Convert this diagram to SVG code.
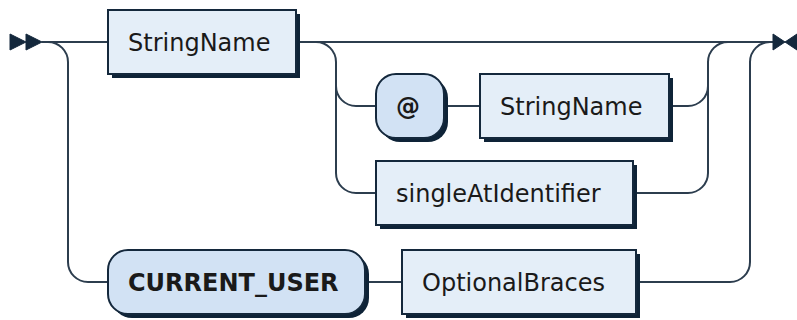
<svg xmlns="http://www.w3.org/2000/svg" width="797" height="320" viewBox="0 0 797 320">
<style>
  .line { fill: none; stroke: #2c3d4e; stroke-width: 2; }
  .shadow { fill: #0e2337; stroke: none; }
  .nonterminal { fill: #e4eef8; stroke: #14283c; stroke-width: 2; }
  .terminal { fill: #d2e2f4; stroke: #14283c; stroke-width: 2; }
  .marker { fill: #14283c; stroke: #14283c; stroke-width: 1; }
  text { font-family: "DejaVu Sans", Verdana, sans-serif; font-size: 24px; fill: #1a1a1a; }
  text.bold { font-weight: bold; }
</style>
<g id="connectors">
  <polygon class="marker" points="26 42, 10 34, 10 50"/>
  <polygon class="marker" points="42 42, 26 34, 26 50"/>
  <path class="line" d="M42 42 H108"/>
  <path class="line" d="M48 42 a20 20 0 0 1 20 20 V262 a20 20 0 0 0 20 20 H108"/>
  <path class="line" d="M296 42 H773"/>
  <path class="line" d="M316 42 a20 20 0 0 1 20 20 V86 a20 20 0 0 0 20 20 H376"/>
  <path class="line" d="M336 86 V173 a20 20 0 0 0 20 20 H376"/>
  <path class="line" d="M444 106 H480"/>
  <path class="line" d="M669 106 H688 a20 20 0 0 0 20 -20 V62 a20 20 0 0 1 20 -20"/>
  <path class="line" d="M633 193 H688 a20 20 0 0 0 20 -20 V86"/>
  <path class="line" d="M365 282 H402"/>
  <path class="line" d="M636 282 H730 a20 20 0 0 0 20 -20 V62 a20 20 0 0 1 20 -20"/>
  <polygon class="marker" points="773 34, 773 50, 785 42"/>
  <polygon class="marker" points="797 34, 797 50, 785 42"/>
</g>
<g id="node-stringname1">
  <rect class="shadow" x="112" y="14" width="188" height="64"/>
  <rect class="nonterminal" x="108" y="10" width="188" height="64"/>
  <text x="128" y="51">StringName</text>
</g>
<g id="node-at">
  <rect class="shadow" x="380" y="78" width="68" height="64" rx="20"/>
  <rect class="terminal" x="376" y="74" width="68" height="64" rx="20"/>
  <text class="bold" x="396" y="115">@</text>
</g>
<g id="node-stringname2">
  <rect class="shadow" x="484" y="78" width="189" height="64"/>
  <rect class="nonterminal" x="480" y="74" width="189" height="64"/>
  <text x="500" y="115">StringName</text>
</g>
<g id="node-singleatidentifier">
  <rect class="shadow" x="380" y="165" width="257" height="64"/>
  <rect class="nonterminal" x="376" y="161" width="257" height="64"/>
  <text x="396" y="202">singleAtIdentifier</text>
</g>
<g id="node-current-user">
  <rect class="shadow" x="112" y="254" width="257" height="64" rx="20"/>
  <rect class="terminal" x="108" y="250" width="257" height="64" rx="20"/>
  <text class="bold" x="128" y="291">CURRENT_USER</text>
</g>
<g id="node-optionalbraces">
  <rect class="shadow" x="406" y="254" width="234" height="64"/>
  <rect class="nonterminal" x="402" y="250" width="234" height="64"/>
  <text x="422" y="291">OptionalBraces</text>
</g>
</svg>
